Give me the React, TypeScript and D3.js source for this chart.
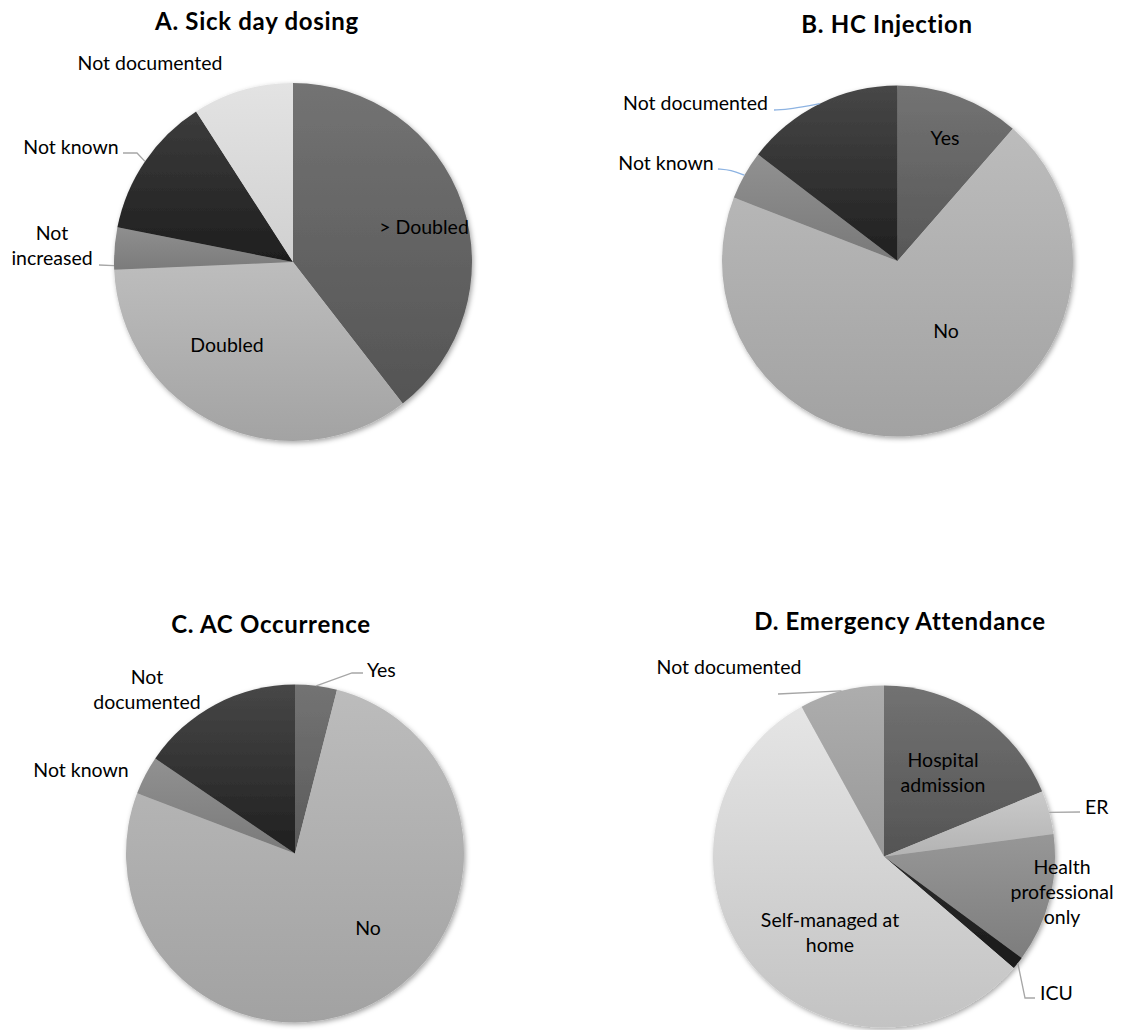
import React from 'react';
import * as d3 from 'd3';

// ---- data (percent of cases) ----
const sickDayCategories = ['> Doubled', 'Doubled', 'Not increased', 'Not known', 'Not documented'];
const sickDayValues = [39.5, 34.8, 3.8, 12.8, 9.1];
const sickDayShades = [['#737373', '#545454'], ['#bdbdbd', '#a3a3a3'], ['#8f8f8f', '#7b7b7b'], ['#3c3c3c', '#1e1e1e'], ['#e3e3e3', '#d0d0d0']];

const injectionCategories = ['Yes', 'No', 'Not known', 'Not documented'];
const injectionValues = [11.4, 69.4, 4.5, 14.6];
const injectionShades = [['#737373', '#575757'], ['#bcbcbc', '#a2a2a2'], ['#919191', '#797979'], ['#474747', '#1f1f1f']];

const crisisCategories = ['Yes', 'No', 'Not known', 'Not documented'];
const crisisValues = [4.0, 76.8, 3.7, 15.5];
const crisisShades = [['#737373', '#5a5a5a'], ['#bcbcbc', '#a2a2a2'], ['#919191', '#7a7a7a'], ['#474747', '#1f1f1f']];

const attendanceCategories = ['Hospital admission', 'ER', 'Health professional only', 'ICU', 'Self-managed at home', 'Not documented'];
const attendanceValues = [18.8, 4.1, 12.2, 1.2, 55.7, 8.0];
const attendanceShades = [['#727272', '#545454'], ['#cacaca', '#b3b3b3'], ['#979797', '#7d7d7d'], ['#2c2c2c', '#1a1a1a'], ['#e5e5e5', '#c3c3c3'], ['#adadad', '#999999']];

// ---- layout ----
type Pt = [number, number];
interface LabelSpec {
  slice: number;
  lines: string[];
  x: number;
  y: number;
  anchor?: 'start' | 'middle' | 'end';
  leader?: { points: Pt[]; at?: number; curved?: boolean };
}
interface Panel {
  id: string;
  title: string;
  titleX: number;
  titleY: number;
  cx: number;
  cy: number;
  r: number;
  categories: string[];
  values: number[];
  shades: string[][];
  leaderColor: string;
  labels: LabelSpec[];
}

const GRAY_LEADER = '#a6a6a6';
const BLUE_LEADER = '#8db3e2';
const LINE_H = 25;

const panels: Panel[] = [
  {
    id: 'a', title: 'A. Sick day dosing', titleX: 257, titleY: 30,
    cx: 293, cy: 262, r: 179,
    categories: sickDayCategories, values: sickDayValues, shades: sickDayShades,
    leaderColor: GRAY_LEADER,
    labels: [
      { slice: 0, lines: ['> Doubled'], x: 424, y: 234 },
      { slice: 1, lines: ['Doubled'], x: 227, y: 352 },
      { slice: 2, lines: ['Not', 'increased'], x: 52, y: 240, leader: { points: [[99, 265]], at: 0.1 } },
      { slice: 3, lines: ['Not known'], x: 71, y: 154, leader: { points: [[123, 153], [137, 153]] } },
      { slice: 4, lines: ['Not documented'], x: 150, y: 70 },
    ],
  },
  {
    id: 'b', title: 'B. HC Injection', titleX: 887, titleY: 33,
    cx: 897.5, cy: 261, r: 175.5,
    categories: injectionCategories, values: injectionValues, shades: injectionShades,
    leaderColor: BLUE_LEADER,
    labels: [
      { slice: 0, lines: ['Yes'], x: 945, y: 145 },
      { slice: 1, lines: ['No'], x: 946, y: 338 },
      { slice: 2, lines: ['Not known'], x: 666, y: 170, leader: { points: [[718, 169], [731, 170]], curved: true } },
      { slice: 3, lines: ['Not documented'], x: 695.5, y: 110, leader: { points: [[774, 110], [791, 109]], curved: true } },
    ],
  },
  {
    id: 'c', title: 'C. AC Occurrence', titleX: 271, titleY: 633,
    cx: 295, cy: 853.5, r: 169,
    categories: crisisCategories, values: crisisValues, shades: crisisShades,
    leaderColor: GRAY_LEADER,
    labels: [
      { slice: 0, lines: ['Yes'], x: 367, y: 677, anchor: 'start', leader: { points: [[363, 673], [352, 673]] } },
      { slice: 1, lines: ['No'], x: 368, y: 935 },
      { slice: 2, lines: ['Not known'], x: 81, y: 777 },
      { slice: 3, lines: ['Not', 'documented'], x: 147, y: 684 },
    ],
  },
  {
    id: 'd', title: 'D. Emergency Attendance', titleX: 900, titleY: 630,
    cx: 884, cy: 856.5, r: 171,
    categories: attendanceCategories, values: attendanceValues, shades: attendanceShades,
    leaderColor: GRAY_LEADER,
    labels: [
      { slice: 0, lines: ['Hospital', 'admission'], x: 943, y: 767 },
      { slice: 1, lines: ['ER'], x: 1085, y: 814, anchor: 'start', leader: { points: [[1080, 812]] } },
      { slice: 2, lines: ['Health', 'professional', 'only'], x: 1062, y: 874 },
      { slice: 3, lines: ['ICU'], x: 1040, y: 1000, anchor: 'start', leader: { points: [[1035, 998], [1025, 998]] } },
      { slice: 4, lines: ['Self-managed at', 'home'], x: 830, y: 927 },
      { slice: 5, lines: ['Not documented'], x: 729, y: 674, leader: { points: [[778, 694]] } },
    ],
  },
];

const FONT = 'Lato, "Open Sans", "DejaVu Sans", sans-serif';

function PiePanel({ panel }: { panel: Panel }) {
  const pie = d3.pie<number>().sort(null).value((d) => d)(panel.values);
  const arc = d3.arc<d3.PieArcDatum<number>>().innerRadius(0).outerRadius(panel.r);
  const leaderLine = d3.line<Pt>();
  const curvedLine = d3.line<Pt>().curve(d3.curveBasis);

  return (
    <g>
      <defs>
        {panel.shades.map((s, i) => (
          <linearGradient key={i} id={`grad-${panel.id}-${i}`} x1="0" y1="0" x2="0" y2="1">
            <stop offset="0" stopColor={s[0]} />
            <stop offset="1" stopColor={s[1]} />
          </linearGradient>
        ))}
      </defs>
      <text
        x={panel.titleX}
        y={panel.titleY}
        textAnchor="middle"
        fontFamily={FONT}
        fontWeight="bold"
        fontSize={24}
        letterSpacing={0.7}
        fill="#000"
      >
        {panel.title}
      </text>
      <g transform={`translate(${panel.cx},${panel.cy})`} filter="url(#pieShadow)">
        {pie.map((d, i) => (
          <path key={panel.categories[i]} d={arc(d) || ''} fill={`url(#grad-${panel.id}-${i})`} />
        ))}
      </g>
      {panel.labels.map((lab) => {
        const d = pie[lab.slice];
        let leader: React.ReactNode = null;
        if (lab.leader) {
          const t = lab.leader.at ?? 0.5;
          const a = d.startAngle + t * (d.endAngle - d.startAngle);
          const edge: Pt = [panel.cx + panel.r * Math.sin(a), panel.cy - panel.r * Math.cos(a)];
          const pts: Pt[] = [...lab.leader.points, edge];
          const gen = lab.leader.curved ? curvedLine : leaderLine;
          leader = <path d={gen(pts) || ''} fill="none" stroke={panel.leaderColor} strokeWidth={1.3} />;
        }
        return (
          <g key={lab.lines.join(' ')}>
            {leader}
            <text
              x={lab.x}
              y={lab.y}
              textAnchor={lab.anchor ?? 'middle'}
              fontFamily={FONT}
              fontSize={19.5}
              fill="#000"
            >
              {lab.lines.map((ln, k) => (
                <tspan key={k} x={lab.x} y={lab.y + k * LINE_H}>
                  {ln}
                </tspan>
              ))}
            </text>
          </g>
        );
      })}
    </g>
  );
}

export default function App() {
  return (
    <svg
      width={1126}
      height={1030}
      viewBox="0 0 1126 1030"
      style={{ position: 'absolute', left: 0, top: 0, background: '#fff' }}
    >
      <defs>
        <filter id="pieShadow" x="-10%" y="-10%" width="120%" height="120%">
          <feDropShadow dx="1.5" dy="2" stdDeviation="2.5" floodColor="#000" floodOpacity="0.35" />
        </filter>
      </defs>
      <rect width={1126} height={1030} fill="#fff" />
      {panels.map((p) => (
        <PiePanel key={p.id} panel={p} />
      ))}
    </svg>
  );
}
